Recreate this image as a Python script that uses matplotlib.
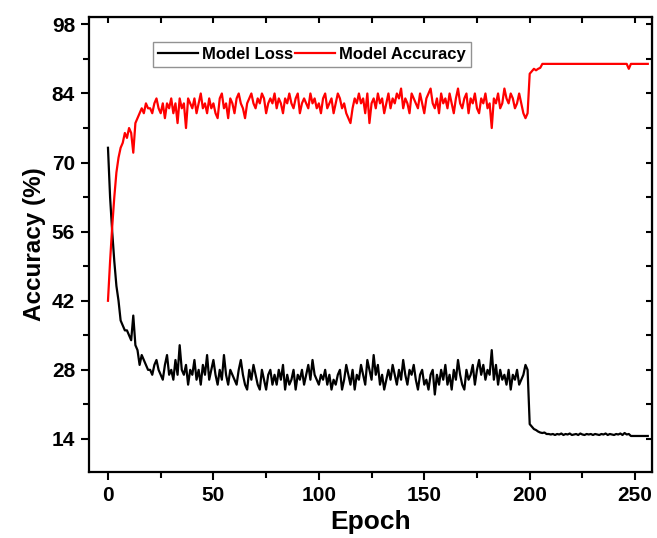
import numpy as np
import matplotlib
matplotlib.use("Agg")
import matplotlib.pyplot as plt
from matplotlib.ticker import MultipleLocator

# ---- data ----
acc_a = [42, 50, 57, 63, 68, 71, 73, 74, 76, 75, 77, 76, 72, 78, 79, 80, 81, 80, 82, 81]
acc_b = [81, 80, 82, 83, 81, 80, 82, 79, 82, 81, 83, 80, 82, 78, 83, 81, 82, 77, 83, 82,
         81, 83, 80, 82, 84, 81, 82, 80, 83, 81, 82, 80, 79, 83, 84, 81, 82, 79, 83, 82,
         80, 83, 84, 82, 81, 79, 82, 83, 84, 82, 81, 83, 82, 84, 83, 80, 82, 83, 82, 84,
         81, 83, 82, 80, 83, 82, 84, 82, 81, 83, 84, 80, 82, 83, 82, 81, 84, 82, 83, 81]
acc_c = [82, 80, 83, 84, 81, 82, 83, 80, 82, 84, 83, 81, 82, 80, 79, 78, 81, 83, 82, 84,
         82, 83, 80, 84, 78, 82, 83, 81, 84, 82, 83, 80, 82, 84, 81, 83, 82, 84, 83, 85,
         81, 83, 82, 80, 84, 83, 82, 81, 84, 82, 80, 83, 84, 85, 82, 81, 83, 80, 84, 82,
         83, 81, 84, 82, 80, 83, 85, 82, 81, 83, 84, 80, 83, 82, 84, 81, 80, 83, 82, 84,
         81, 82, 77, 83, 82, 84, 81, 82, 85, 83, 82, 84, 83, 81, 82, 84, 82, 80, 79, 80]
acc_d = [88, 88.5, 89, 88.7, 89, 89.2, 90, 90, 90, 90, 90, 90, 90, 90, 90, 90, 90, 90, 90, 90,
         90, 90, 90, 90, 90, 90, 90, 90, 90, 90, 90, 90, 90, 90, 90, 90, 90, 90, 90, 90,
         90, 90, 90, 90, 90, 90, 90, 89, 90, 90, 90, 90, 90, 90, 90, 90, 90]

loss_a = [73, 63, 56, 50, 45, 42, 38, 37, 36, 36, 35, 34, 39, 33, 32, 29, 31, 30, 29, 28]
loss_b = [28, 27, 29, 30, 28, 27, 26, 29, 31, 27, 28, 26, 30, 27, 33, 28, 27, 29, 25, 28,
          27, 30, 26, 28, 25, 29, 27, 31, 26, 28, 30, 27, 25, 28, 26, 31, 27, 25, 28, 27,
          26, 25, 28, 30, 27, 25, 24, 28, 26, 29, 27, 25, 24, 28, 26, 24, 27, 28, 25, 27,
          25, 28, 26, 29, 24, 27, 25, 26, 28, 24, 27, 26, 28, 25, 27, 29, 26, 30, 27, 26]
loss_c = [25, 27, 26, 28, 25, 27, 24, 26, 25, 27, 28, 24, 26, 29, 27, 25, 28, 24, 27, 26,
          29, 27, 25, 30, 28, 26, 31, 27, 29, 25, 27, 24, 26, 28, 26, 29, 27, 25, 28, 26,
          30, 27, 25, 28, 27, 29, 26, 24, 27, 28, 25, 26, 24, 27, 28, 23, 27, 25, 28, 26,
          29, 25, 27, 24, 28, 26, 30, 27, 25, 24, 28, 26, 27, 29, 25, 28, 30, 27, 29, 26,
          28, 27, 32, 26, 29, 25, 28, 26, 27, 25, 28, 24, 27, 26, 28, 25, 26, 27, 29, 28]
loss_d = [17, 16.5, 16, 15.8, 15.5, 15.3, 15.2, 15.3, 15.0, 15.0, 14.9, 15.0, 14.8, 15.0, 14.9,
          15.1, 14.8, 15.0, 14.9, 15.1, 14.8, 14.9, 15.0, 14.8, 15.1, 14.9, 14.8, 15.0, 14.9, 15.0,
          14.8, 15.0, 14.9, 14.8, 15.0, 14.9, 15.1, 14.8, 15.0, 14.9, 14.8, 15.0, 14.9, 15.1, 14.8,
          15.2, 14.9, 15.0, 14.6, 14.6, 14.6, 14.6, 14.6, 14.6, 14.6, 14.6, 14.6]

accuracy = np.array(acc_a + acc_b + acc_c + acc_d, dtype=float)
loss = np.array(loss_a + loss_b + loss_c + loss_d, dtype=float)
epochs = np.arange(len(accuracy))

x_ticks = [0, 50, 100, 150, 200, 250]
y_ticks = [14, 28, 42, 56, 70, 84, 98]

# ---- plot ----
plt.rcParams['font.family'] = ['Liberation Sans', 'DejaVu Sans']
plt.rcParams['font.weight'] = 'bold'

fig = plt.figure(figsize=(6.57, 5.38), dpi=100)
ax = fig.add_axes([89/657, 1-472/538, (652-89)/657, (472-17)/538])

ax.plot(epochs, loss, color='black', lw=1.6, label='Model Loss')
ax.plot(epochs, accuracy, color='red', lw=1.6, label='Model Accuracy')

ax.set_xlim(-9, 258)
ax.set_ylim(7.3, 99.5)
ax.set_xticks(x_ticks)
ax.set_yticks(y_ticks)
ax.xaxis.set_minor_locator(MultipleLocator(25))
ax.yaxis.set_minor_locator(MultipleLocator(7))

for s in ax.spines.values():
    s.set_linewidth(1.6)
ax.tick_params(which='major', direction='out', length=6, width=1.5, labelsize=15, pad=4)
ax.tick_params(which='minor', direction='out', length=4, width=1.5)
for lab in ax.get_xticklabels() + ax.get_yticklabels():
    lab.set_fontweight('bold')

# inward ticks on top and right
top = ax.secondary_xaxis('top')
top.set_xticks(x_ticks)
top.xaxis.set_minor_locator(MultipleLocator(25))
top.tick_params(which='both', direction='in', length=4, width=1.5, labeltop=False)
right = ax.secondary_yaxis('right')
right.set_yticks(y_ticks)
right.yaxis.set_minor_locator(MultipleLocator(7))
right.tick_params(which='both', direction='in', length=4, width=1.5, labelright=False)

ax.set_xlabel('Epoch', fontsize=19, fontweight='bold', labelpad=4)
ax.set_ylabel('Accuracy (%)', fontsize=17.5, fontweight='bold', labelpad=4)

leg = ax.legend(loc='upper left', bbox_to_anchor=(0.114, 0.945), ncol=2,
                prop={'weight': 'bold', 'size': 12}, frameon=True, fancybox=False,
                handlelength=2.4, handletextpad=0.25, columnspacing=0.1,
                borderpad=0.3, borderaxespad=0)
leg.get_frame().set_edgecolor('#777777')
leg.get_frame().set_linewidth(1.0)

fig.savefig('out.png', dpi=100)
